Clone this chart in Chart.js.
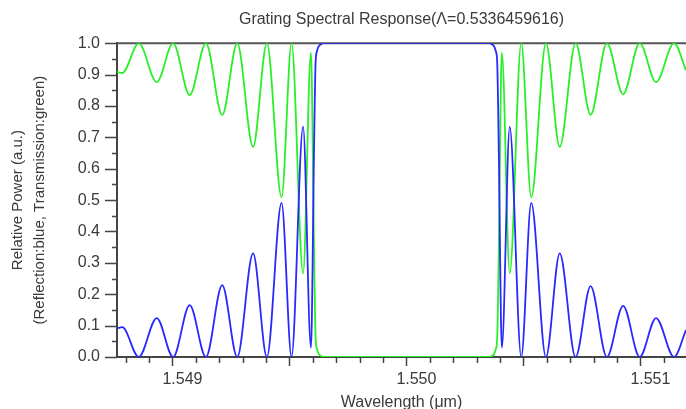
<!DOCTYPE html>
<html>
<head>
<meta charset="utf-8">
<title>Grating Spectral Response</title>
<script src="https://cdn.jsdelivr.net/npm/chart.js@4.4.0/dist/chart.umd.min.js"></script>
<style>
  html, body { margin: 0; padding: 0; background: #fff; }
  canvas { display: block; }
</style>
</head>
<body>
<canvas id="spectrumChart" width="686" height="409"></canvas>
<script>
// wavelength samples (um) and the reflected / transmitted power at each one
const wavelength = [
  1.5487632, 1.5487859, 1.5488562, 1.5489331, 1.5490030, 1.5490739, 1.5491432,
  1.5492128, 1.5492771, 1.5493447, 1.5494038, 1.5494665, 1.5495092, 1.5495585,
  1.549592, 1.549596, 1.549600, 1.549604, 1.549608, 1.549612, 1.549618,
  1.549625, 1.549635, 1.549645, 1.5498, 1.5500, 1.5502,
  1.550355, 1.550365, 1.550375, 1.550382, 1.550388, 1.550392, 1.550396,
  1.550400, 1.550404, 1.550408, 1.5504415, 1.5504908, 1.5505335, 1.5505962,
  1.5506553, 1.5507229, 1.5507872, 1.5508568, 1.5509261, 1.5509970, 1.5510669,
  1.5511438, 1.5511949
];
const reflection = [
  0.091, 0.095, 0.0, 0.124, 0.0, 0.165, 0.0,
  0.229, 0.0, 0.330, 0.0, 0.491, 0.0, 0.734,
  0.03, 0.12, 0.35, 0.60, 0.80, 0.94, 0.975,
  0.99, 0.997, 1.0, 1.0, 1.0, 1.0,
  1.0, 0.997, 0.99, 0.975, 0.94, 0.80, 0.60,
  0.35, 0.12, 0.03, 0.733, 0.0, 0.491, 0.0,
  0.330, 0.0, 0.226, 0.0, 0.163, 0.0, 0.124,
  0.0, 0.086
];
const transmission = [
  0.909, 0.905, 1.0, 0.876, 1.0, 0.835, 1.0,
  0.771, 1.0, 0.670, 1.0, 0.509, 1.0, 0.266,
  0.97, 0.88, 0.65, 0.40, 0.20, 0.06, 0.025,
  0.01, 0.003, 0.0, 0.0, 0.0, 0.0,
  0.0, 0.003, 0.01, 0.025, 0.06, 0.20, 0.40,
  0.65, 0.88, 0.97, 0.267, 1.0, 0.509, 1.0,
  0.670, 1.0, 0.772, 1.0, 0.837, 1.0, 0.876,
  1.0, 0.914
];
const xTickLabels = [1.549, 1.550, 1.551];
const yTickLabels = [0, 0.1, 0.2, 0.3, 0.4, 0.5, 0.6, 0.7, 0.8, 0.9, 1.0];

const textColor = '#3a3a3a';
const axisColor = '#444444';
const baseFont = { family: "'Liberation Sans', Arial, sans-serif", size: 16, weight: 'normal' };

// short/long tick marks along both axes plus the upper frame line
const frameTicks = {
  id: 'frameTicks',
  beforeDatasetsDraw(chart) {
    const ctx = chart.ctx;
    const area = chart.chartArea;
    const xs = chart.scales.x;
    const ys = chart.scales.y;
    ctx.save();
    ctx.strokeStyle = axisColor;
    ctx.lineWidth = 1.5;
    ctx.beginPath();
    for (let k = Math.ceil(xs.min * 10000); k <= Math.floor(xs.max * 10000); k++) {
      const px = Math.round(xs.getPixelForValue(k / 10000)) + 0.5;
      const len = k % 5 === 0 ? 9 : 6;
      ctx.moveTo(px, area.bottom);
      ctx.lineTo(px, area.bottom + len);
    }
    for (let k = 0; k <= 20; k++) {
      const py = Math.round(ys.getPixelForValue(k / 20)) + 0.5;
      const len = k % 2 === 0 ? 12 : 5;
      ctx.moveTo(area.left, py);
      ctx.lineTo(area.left - len, py);
    }
    ctx.stroke();
    ctx.strokeStyle = '#555555';
    ctx.lineWidth = 2;
    ctx.beginPath();
    ctx.moveTo(area.left, area.top);
    ctx.lineTo(area.right, area.top);
    ctx.stroke();
    ctx.restore();
  }
};

document.addEventListener('DOMContentLoaded', function() {
  const ctx = document.getElementById('spectrumChart').getContext('2d');

  new Chart(ctx, {
    type: 'line',
    data: {
      datasets: [{
        label: 'Reflection',
        data: wavelength.map((w, i) => ({ x: w, y: reflection[i] })),
        borderColor: 'rgb(40, 40, 255)',
        cubicInterpolationMode: 'monotone',
        fill: false
      }, {
        label: 'Transmission',
        data: wavelength.map((w, i) => ({ x: w, y: transmission[i] })),
        borderColor: 'rgb(40, 240, 40)',
        cubicInterpolationMode: 'monotone',
        fill: false
      }]
    },
    options: {
      responsive: false,
      animation: false,
      devicePixelRatio: 1,
      layout: { padding: 0 },
      elements: {
        point: { radius: 0 },
        line: { borderWidth: 1.8 }
      },
      plugins: {
        legend: { display: false },
        tooltip: { enabled: false },
        title: {
          display: true,
          fullSize: false,
          text: 'Grating Spectral Response(\u039B=0.5336459616)',
          color: textColor,
          font: baseFont,
          padding: { top: 10, bottom: 14 }
        }
      },
      scales: {
        x: {
          type: 'linear',
          min: 1.5487632,
          max: 1.5511949,
          afterBuildTicks: scale => { scale.ticks = xTickLabels.map(v => ({ value: v })); },
          afterFit: scale => { scale.height = 52; },
          grid: { display: false, drawTicks: false },
          border: { display: true, color: axisColor, width: 2 },
          ticks: {
            autoSkip: false,
            maxRotation: 0,
            labelOffset: 10,
            padding: 13,
            color: textColor,
            font: baseFont,
            callback: v => v.toFixed(3)
          },
          title: {
            display: true,
            text: 'Wavelength (\u03BCm)',
            color: textColor,
            font: baseFont,
            padding: { top: 0, bottom: -3 }
          }
        },
        y: {
          min: 0,
          max: 1,
          afterBuildTicks: scale => { scale.ticks = yTickLabels.map(v => ({ value: v })); },
          afterFit: scale => { scale.width = 117; },
          grid: { display: false, drawTicks: false },
          border: { display: true, color: axisColor, width: 2 },
          ticks: {
            padding: 17,
            color: textColor,
            font: baseFont,
            callback: v => v.toFixed(1)
          },
          title: {
            display: true,
            text: ['Relative Power (a.u.)', '(Reflection:blue, Transmission:green)'],
            color: textColor,
            font: { family: baseFont.family, size: 15, lineHeight: 1.47 },
            padding: { top: 7, bottom: 0 }
          }
        }
      }
    },
    plugins: [frameTicks]
  });
});
</script>
</body>
</html>
